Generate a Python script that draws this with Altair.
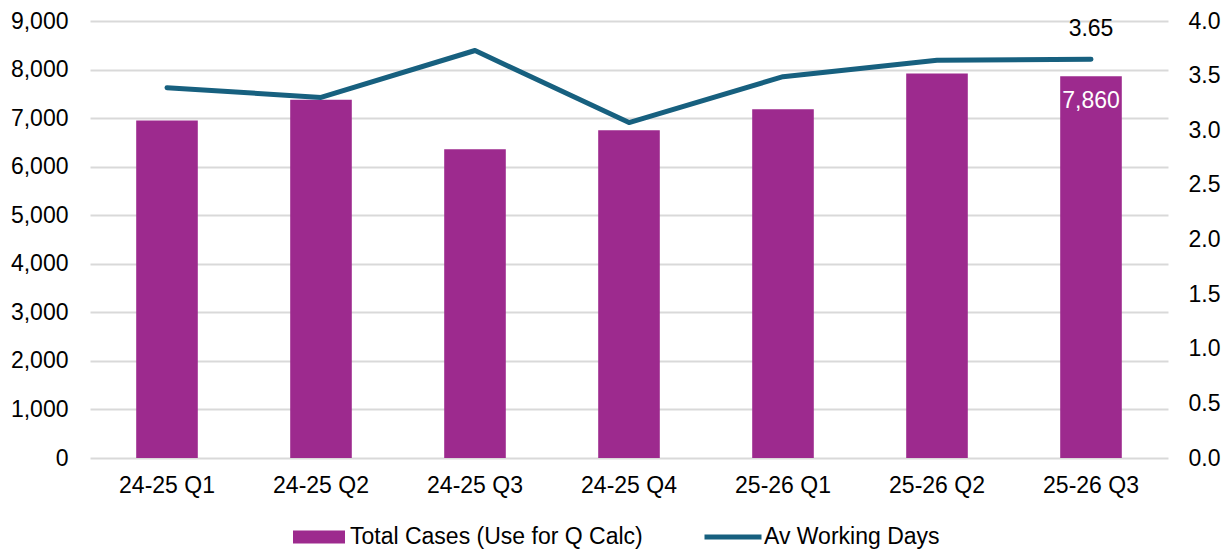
import altair as alt
import pandas as pd

# Quarterly data
quarters = ["24-25 Q1", "24-25 Q2", "24-25 Q3", "24-25 Q4", "25-26 Q1", "25-26 Q2", "25-26 Q3"]
total_cases = [6950, 7380, 6360, 6750, 7180, 7920, 7860]
working_days = [3.39, 3.30, 3.73, 3.07, 3.49, 3.64, 3.65]

CASES_NAME = "Total Cases (Use for Q Calc)"
DAYS_NAME = "Av Working Days"
LAST = quarters[-1]

PURPLE = "#9D2A8E"
BLUE = "#17607F"
GRID = "#D9D9D9"
FONT = "Liberation Sans"
FS = 23

df = pd.DataFrame({"quarter": quarters, "cases": total_cases, "days": working_days})
df["cases_series"] = CASES_NAME
df["days_series"] = DAYS_NAME

base = alt.Chart(df)

x_enc = alt.X(
    "quarter:N",
    sort=quarters,
    title=None,
    scale=alt.Scale(paddingInner=0.6, paddingOuter=0.3),
    axis=alt.Axis(labelAngle=0, labelFontSize=FS, labelColor="#000000", labelPadding=16,
                  ticks=False, domain=False, grid=False),
)

y_left = alt.Y(
    "cases:Q",
    title=None,
    scale=alt.Scale(domain=[0, 9000], nice=False),
    axis=alt.Axis(values=list(range(0, 9001, 1000)), format=",.0f", ticks=False, domain=False,
                  grid=True, gridColor=GRID, gridWidth=2, labelPadding=22,
                  labelFontSize=FS, labelColor="#000000"),
)

y_right = alt.Y(
    "days:Q",
    title=None,
    scale=alt.Scale(domain=[0, 4], nice=False),
    axis=alt.Axis(orient="right", values=[i * 0.5 for i in range(9)], format=".1f",
                  ticks=False, domain=False, grid=False, labelPadding=20,
                  labelFontSize=FS, labelColor="#000000"),
)

legend_common = dict(
    title=None, orient="none", padding=0, labelFontSize=FS, labelColor="#000000",
    labelLimit=800,
)

bars = base.mark_bar().encode(
    x=x_enc,
    y=y_left,
    fill=alt.Fill(
        "cases_series:N",
        scale=alt.Scale(domain=[CASES_NAME], range=[PURPLE]),
        legend=alt.Legend(
            legendX=203, legendY=490, labelOffset=5,
            symbolType="M-1,-0.25L1,-0.25L1,0.25L-1,0.25Z", symbolSize=2704,
            symbolStrokeWidth=0, **legend_common,
        ),
    ),
)

bar_label = base.transform_filter(alt.datum.quarter == LAST).mark_text(
    color="white", fontSize=FS, baseline="top", dy=14
).encode(x=x_enc, y=y_left, text=alt.Text("cases:Q", format=",.0f"))

line = base.mark_line(strokeWidth=5, strokeCap="round", strokeJoin="round").encode(
    x=x_enc,
    y=y_right,
    stroke=alt.Stroke(
        "days_series:N",
        scale=alt.Scale(domain=[DAYS_NAME], range=[BLUE]),
        legend=alt.Legend(
            legendX=612, legendY=485, labelOffset=0,
            symbolType="stroke", symbolSize=3249, symbolStrokeWidth=5,
            **legend_common,
        ),
    ),
)

line_label = base.transform_filter(alt.datum.quarter == LAST).mark_text(
    color="#000000", fontSize=FS, baseline="alphabetic", dy=-23
).encode(x=x_enc, y=y_right, text=alt.Text("days:Q", format=".2f"))

left = alt.layer(bars, bar_label)
right = alt.layer(line, line_label)

chart = (
    alt.layer(left, right)
    .resolve_scale(y="independent", fill="independent", stroke="independent")
    .properties(
        width=1078,
        height=437,
        autosize=alt.AutoSizeParams(type="none"),
        padding={"left": 90, "top": 21, "right": 57, "bottom": 96},
    )
    .configure(font=FONT)
    .configure_view(stroke=None)
)

chart.save("out.html", embed_options={"renderer": "svg", "actions": False})
